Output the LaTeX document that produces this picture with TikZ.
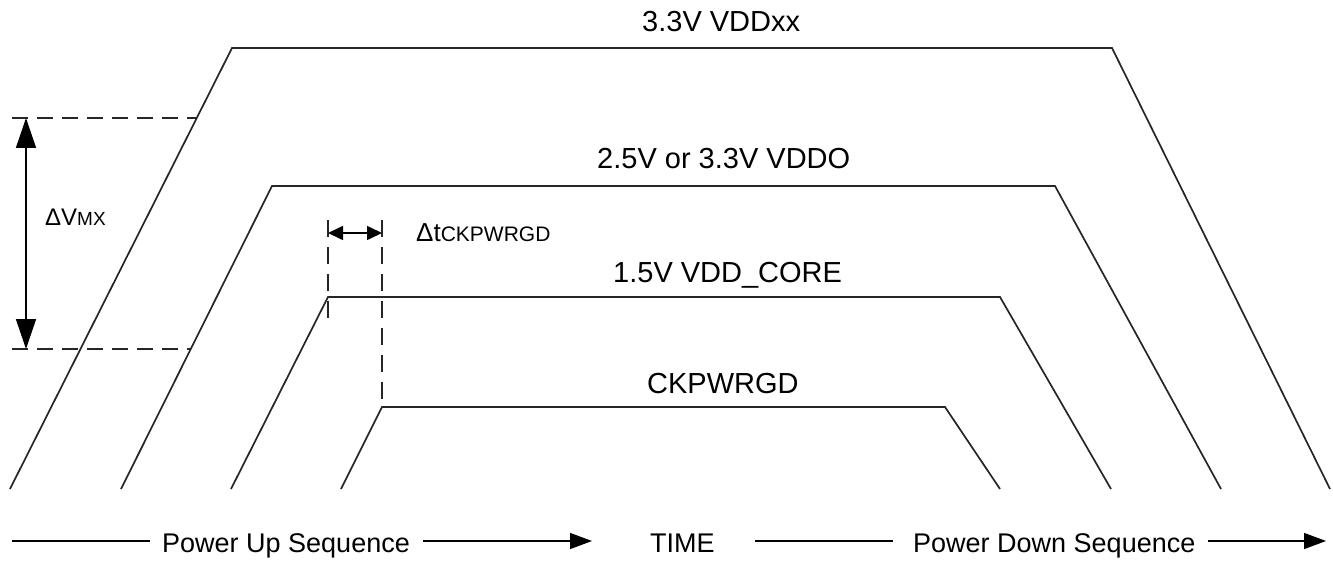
\documentclass[tikz,border=0pt]{standalone}
\usepackage{fontspec}
\setmainfont{Liberation Sans}
\usetikzlibrary{arrows.meta}
\begin{document}
\begin{tikzpicture}[x=1pt,y=-1pt,
  wave/.style={line width=1.7pt, black!85},
  dashln/.style={line width=1.6pt, black!85, dash pattern=on 16pt off 9pt},
  dimarrow/.style={line width=1.6pt, {Triangle[length=30pt,width=20pt]}-{Triangle[length=30pt,width=20pt]}},
  smallarrow/.style={line width=1.6pt, {Triangle[length=15pt,width=14pt]}-{Triangle[length=15pt,width=14pt]}},
  seqarrow/.style={line width=1.3pt, -{Triangle[length=22pt,width=16pt]}},
  seqline/.style={line width=1.3pt},
  lbl/.style={font=\fontsize{29}{31}\selectfont, inner sep=0pt, anchor=base west},
  seqlbl/.style={font=\fontsize{27}{29}\selectfont, inner sep=0pt, anchor=base west},
]
\useasboundingbox (0,0) rectangle (1333,561);

% waveform corner coordinates
\coordinate (a1) at (10,489);  \coordinate (b1) at (232,48);  \coordinate (c1) at (1112,48);  \coordinate (d1) at (1330,489);
\coordinate (a2) at (121,489); \coordinate (b2) at (272,186); \coordinate (c2) at (1055,186); \coordinate (d2) at (1221,489);
\coordinate (a3) at (231,489); \coordinate (b3) at (328,297); \coordinate (c3) at (1000,297); \coordinate (d3) at (1111,489);
\coordinate (a4) at (341,489); \coordinate (b4) at (382,407); \coordinate (c4) at (945,407);  \coordinate (d4) at (1000,489);

\draw[wave] (a1) -- (b1) -- (c1) -- (d1);
\draw[wave] (a2) -- (b2) -- (c2) -- (d2);
\draw[wave] (a3) -- (b3) -- (c3) -- (d3);
\draw[wave] (a4) -- (b4) -- (c4) -- (d4);

% waveform labels
\node[lbl] (l1) at (642,32) {3.3V VDDxx};
\node[lbl] (l2) at (597,169) {2.5V or 3.3V VDDO};
\node[lbl] (l3) at (613,283) {1.5V VDD\_CORE};
\node[lbl] (l4) at (647,393) {CKPWRGD};

% Delta V_MX
\coordinate (vt0) at (12,118);  \coordinate (vt1) at (196,118);
\coordinate (vb0) at (12,349);  \coordinate (vb1) at (190,349);
\draw[dashln] (vt0) -- (vt1);
\draw[dashln] (vb0) -- (vb1);
\coordinate (vat) at (26,118); \coordinate (vab) at (26,349);
\draw[dimarrow] (vat) -- (vab);
\node[inner sep=0pt, anchor=base west] (dv) at (45,226) {\fontsize{24}{26}\selectfont ΔV\fontsize{19}{21}\selectfont MX};

% Delta t_CKPWRGD
\coordinate (t1top) at (328,220); \coordinate (t1bot) at (328,322);
\coordinate (t2top) at (382,220);
\draw[dashln, dash pattern=on 17pt off 10pt] (t1top) -- (t1bot);
\draw[dashln, dash pattern=on 17pt off 10pt] (t2top) -- (b4);
\coordinate (ta) at (328,233); \coordinate (tb) at (382,233);
\draw[smallarrow] (ta) -- (tb);
\node[inner sep=0pt, anchor=base west] (dt) at (416,242) {\fontsize{26}{28}\selectfont Δt\fontsize{21}{23}\selectfont CKPWRGD};

% bottom sequence axis
\node[seqlbl] (pu) at (162,552) {Power Up Sequence};
\node[seqlbl] (tm) at (650,552) {TIME};
\node[seqlbl] (pd) at (913,552) {Power Down Sequence};
\coordinate (s0) at (12,541);
\coordinate (s1) at (150,541);
\coordinate (s2) at (423,541);
\coordinate (s3) at (592,541);
\coordinate (s4) at (755,541);
\coordinate (s5) at (893,541);
\coordinate (s6) at (1208,541);
\coordinate (s7) at (1326,541);
\draw[seqline] (s0) -- (s1);
\draw[seqarrow] (s2) -- (s3);
\draw[seqline] (s4) -- (s5);
\draw[seqarrow] (s6) -- (s7);
\end{tikzpicture}
\end{document}
